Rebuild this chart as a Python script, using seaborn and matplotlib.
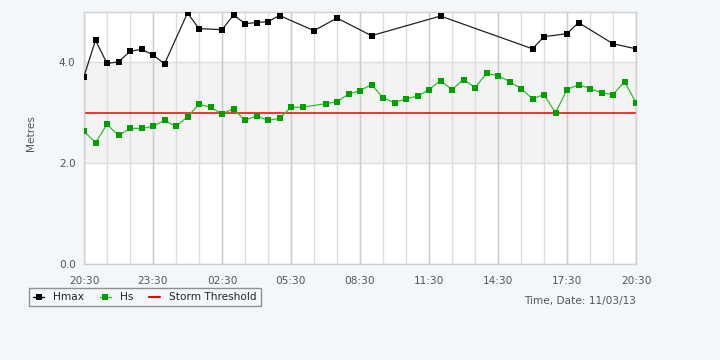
import matplotlib
matplotlib.use("Agg")
import matplotlib.pyplot as plt
import matplotlib.dates as mdates
from matplotlib.lines import Line2D
import seaborn as sns
import pandas as pd

# ---- data ----
start_date = "2013-03-10"
date_label = "Time, Date: 11/03/13"

hmax_times = ["20:30", "21:00", "21:30", "22:00", "22:30", "23:00", "23:30", "00:00",
              "01:00", "01:30", "02:30", "03:00", "03:30", "04:00", "04:30", "05:00",
              "06:30", "07:30", "09:00", "12:00", "16:00", "16:30", "17:30", "18:00",
              "19:30", "20:30"]
hmax_values = [3.72, 4.44, 3.98, 4.01, 4.22, 4.26, 4.15, 3.97,
               4.98, 4.67, 4.65, 4.94, 4.77, 4.79, 4.81, 4.93,
               4.63, 4.88, 4.53, 4.92, 4.27, 4.51, 4.57, 4.79,
               4.37, 4.27]

hs_times = ["20:30", "21:00", "21:30", "22:00", "22:30", "23:00", "23:30", "00:00",
            "00:30", "01:00", "01:30", "02:00", "02:30", "03:00", "03:30", "04:00",
            "04:30", "05:00", "05:30", "06:00", "07:00", "07:30", "08:00", "08:30",
            "09:00", "09:30", "10:00", "10:30", "11:00", "11:30", "12:00", "12:30",
            "13:00", "13:30", "14:00", "14:30", "15:00", "15:30", "16:00", "16:30",
            "17:00", "17:30", "18:00", "18:30", "19:00", "19:30", "20:00", "20:30"]
hs_values = [2.63, 2.41, 2.77, 2.55, 2.69, 2.69, 2.73, 2.85,
             2.73, 2.92, 3.17, 3.11, 2.98, 3.08, 2.85, 2.94,
             2.85, 2.89, 3.11, 3.11, 3.18, 3.22, 3.37, 3.44,
             3.56, 3.30, 3.20, 3.28, 3.33, 3.46, 3.64, 3.46,
             3.66, 3.50, 3.78, 3.74, 3.62, 3.48, 3.28, 3.36,
             3.00, 3.46, 3.56, 3.48, 3.40, 3.36, 3.62, 3.20]

storm_threshold = 3.0
calm_band = [2.0, 4.0]
y_ticks = [0.0, 2.0, 4.0]
series_names = ["Hmax", "Hs", "Storm Threshold"]


def to_datetimes(times, start):
    day = pd.Timestamp(start)
    out, prev = [], None
    for t in times:
        h, m = map(int, t.split(":"))
        if prev is not None and (h, m) < prev:
            day = day + pd.Timedelta(days=1)
        prev = (h, m)
        out.append(day + pd.Timedelta(hours=h, minutes=m))
    return out


hmax_df = pd.DataFrame({"time": to_datetimes(hmax_times, start_date), "value": hmax_values})
hs_df = pd.DataFrame({"time": to_datetimes(hs_times, start_date), "value": hs_values})

# ---- style ----
BG = "#f4f7fa"
TXT = "#555555"
sns.set_style("white")
plt.rcParams["font.family"] = ["DejaVu Sans"]

fig = plt.figure(figsize=(7.2, 3.6), dpi=100, facecolor=BG)
ax = fig.add_axes([84 / 720, 1 - 264 / 360, 552 / 720, 252 / 360])
ax.set_facecolor("white")

t0, t1 = hs_df["time"].min(), hs_df["time"].max()
ax.set_xlim(t0, t1)
ax.set_ylim(0, 5)

ax.axhspan(calm_band[0], calm_band[1], color="#f3f3f3", zorder=0, lw=0)

major = pd.date_range(t0, t1, freq="3h")
minor = pd.date_range(t0, t1, freq="1h")
ax.set_xticks(major)
ax.set_xticks(minor, minor=True)
ax.xaxis.set_major_formatter(mdates.DateFormatter("%H:%M"))
ax.set_yticks(y_ticks)
ax.set_yticklabels([f"{v:.1f}" for v in y_ticks])

ax.grid(False)
for t in minor:
    ax.axvline(t, color="#dddddd", lw=1, zorder=0.5)
for t in major:
    ax.axvline(t, color="#cccccc", lw=1, zorder=0.6)
for v in y_ticks:
    ax.axhline(v, color="#dddddd", lw=1, zorder=0.5)

ax.axhline(storm_threshold, color="#ee0000", lw=1.1, zorder=2)

sns.lineplot(data=hmax_df, x="time", y="value", ax=ax, color="#222222", lw=0.9,
             marker="s", markersize=4.2, markerfacecolor="black", markeredgecolor="black",
             markeredgewidth=0, zorder=3, legend=False)
sns.lineplot(data=hs_df, x="time", y="value", ax=ax, color="#33bb33", lw=0.9,
             marker="s", markersize=4.2, markerfacecolor="#00a000", markeredgecolor="#00a000",
             markeredgewidth=0, zorder=3, legend=False)

ax.set_xlabel("")
ax.set_ylabel("")
ax.tick_params(axis="both", which="both", length=0, labelsize=7.6, colors=TXT)
ax.tick_params(axis="x", pad=9)
ax.tick_params(axis="y", pad=6)
for s in ax.spines.values():
    s.set_color("#d0d0d0")
    s.set_linewidth(1)

fig.text(31 / 720, 1 - 133 / 360, "Metres", rotation=90, ha="center", va="center",
         fontsize=7.6, color=TXT)
fig.text(636 / 720, 1 - 301 / 360, date_label, ha="right", va="center",
         fontsize=7.6, color=TXT)

handles = [
    Line2D([], [], color="black", lw=1, marker="s", markersize=4.2, markeredgewidth=0),
    Line2D([], [], color="#33bb33", lw=1, marker="s", markersize=4.2,
           markerfacecolor="#00a000", markeredgewidth=0),
    Line2D([], [], color="#ee0000", lw=1.5),
]
leg = fig.legend(handles, series_names, loc="upper left",
                 bbox_to_anchor=(29 / 720, 1 - 288 / 360), ncol=3, fontsize=7.6,
                 frameon=True, fancybox=False, edgecolor="#777777", facecolor=BG,
                 handlelength=1.0, handletextpad=0.9, columnspacing=1.5,
                 borderpad=0.4, borderaxespad=0)
leg.get_frame().set_linewidth(1)
for t in leg.get_texts():
    t.set_color("#222222")

fig.savefig("out.png", dpi=100, facecolor=BG)
